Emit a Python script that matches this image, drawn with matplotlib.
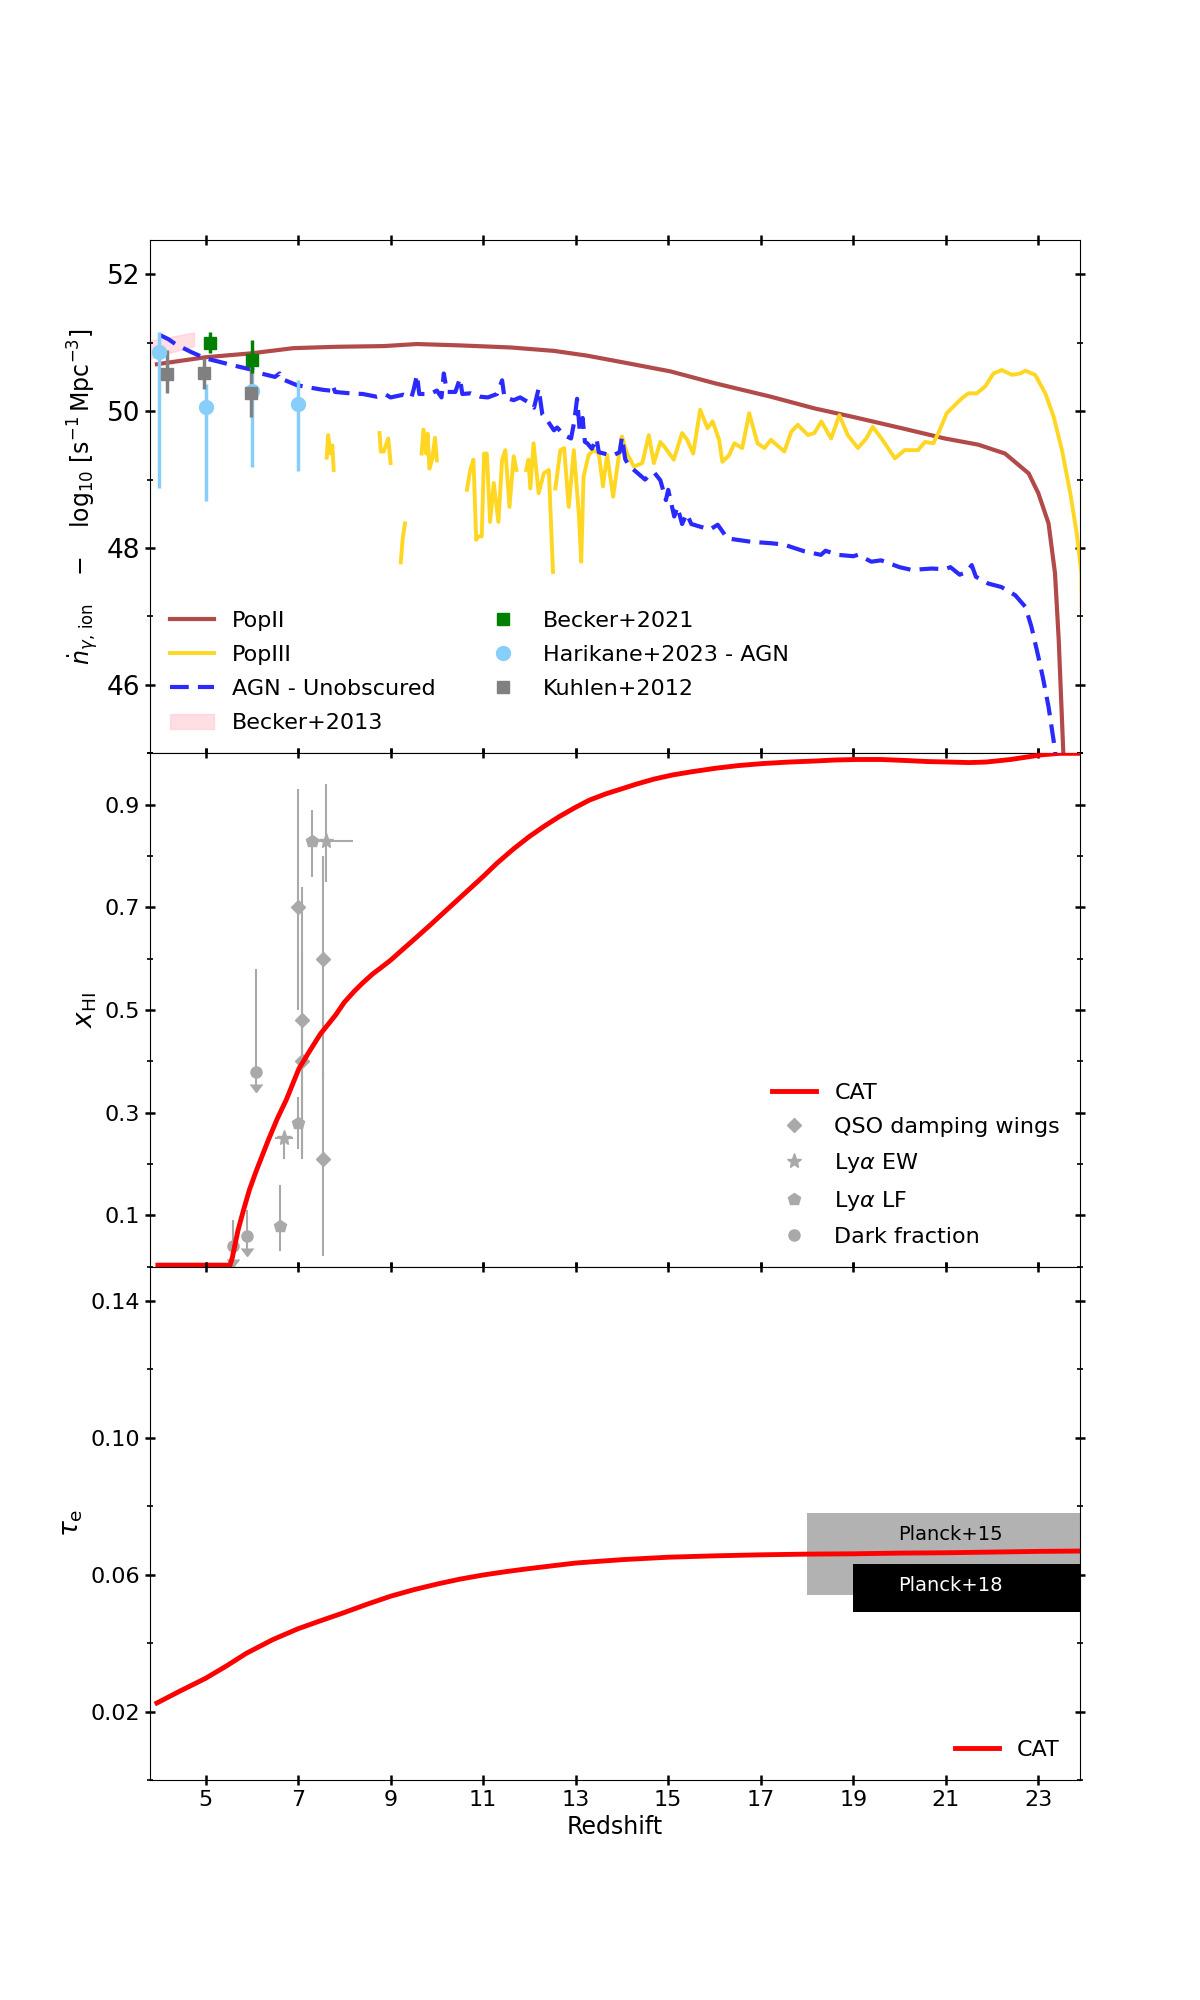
import numpy as np
import matplotlib
matplotlib.use('Agg')
import matplotlib.pyplot as plt
from matplotlib.ticker import MultipleLocator

nan = np.nan

# ---- top panel: ionizing photon rate ----
z_popII = [3.95, 5.0, 6.0, 6.9, 7.84, 8.85, 9.57, 10.5, 11.59, 12.53, 13.25, 14.12,
           15.05, 15.99, 17.22, 18.16, 19.03, 20.11, 20.98, 21.7, 22.28, 22.79, 23.0,
           23.22, 23.36, 23.44, 23.54, 23.58]
n_popII = [50.685, 50.787, 50.845, 50.92, 50.94, 50.95, 50.98, 50.96, 50.93, 50.88, 50.81,
           50.70, 50.58, 50.41, 50.21, 50.04, 49.91, 49.74, 49.60, 49.51, 49.38, 49.09,
           48.80, 48.36, 47.63, 46.66, 45.0, 44.0]

z_popIII = [7.62, 7.65, 7.70, 7.74, 7.77, nan,
            8.76, 8.79, 8.85, 8.95, 9.0, nan,
            9.22, 9.26, 9.31, nan,
            9.67, 9.71, 9.77, 9.80, 9.84, 9.90, 9.96, 10.0, nan,
            10.65, 10.72, 10.79, 10.85, 10.9, 10.97, 11.02, 11.08, 11.15, 11.23, 11.33,
            11.41, 11.48, 11.57, 11.66, 11.72, nan,
            11.93, 11.98, 12.02, 12.09, 12.2, 12.31, 12.42, 12.51, nan,
            12.56, 12.67, 12.75, 12.85, 12.96, 13.07, 13.12, 13.17, 13.28, 13.39, 13.5,
            13.59, 13.68, 13.81, 13.93, 14.0, 14.11, 14.26, 14.44, 14.58, 14.69, 14.83,
            14.94, 15.12, 15.3, 15.41, 15.54, 15.69, 15.85, 15.96, 16.1, 16.17, 16.32,
            16.43, 16.6, 16.75, 16.93, 17.08, 17.22, 17.51, 17.66, 17.8, 18.02, 18.16,
            18.31, 18.52, 18.7, 18.88, 19.1, 19.28, 19.42, 19.61, 19.9, 20.11, 20.4,
            20.55, 20.73, 20.84, 21.02, 21.2, 21.35, 21.49, 21.67, 21.85, 22.03, 22.21,
            22.43, 22.61, 22.72, 22.93, 23.15, 23.33, 23.51, 23.69, 23.83, 23.93, 23.95]
n_popIII = [49.32, 49.65, 49.38, 49.5, 49.14, nan,
            49.68, 49.41, 49.41, 49.6, 49.24, nan,
            47.79, 48.13, 48.36, nan,
            49.38, 49.73, 49.38, 49.67, 49.16, 49.3, 49.61, 49.28, nan,
            48.85, 49.14, 49.29, 48.12, 48.17, 48.17, 49.38, 49.38, 48.38, 48.95, 48.38,
            49.29, 49.43, 48.6, 49.34, 49.14, nan,
            49.14, 49.29, 48.87, 49.53, 48.8, 49.09, 49.14, 47.65, nan,
            48.87, 49.43, 49.46, 48.6, 49.43, 48.48, 47.8, 49.04, 49.36, 49.43, 49.38,
            48.9, 49.36, 48.75, 49.33, 49.63, 49.38, 49.19, 49.24, 49.65, 49.24, 49.55,
            49.46, 49.29, 49.68, 49.58, 49.38, 50.02, 49.75, 49.85, 49.58, 49.26, 49.36,
            49.53, 49.46, 49.97, 49.53, 49.46, 49.58, 49.41, 49.70, 49.8, 49.65, 49.68,
            49.85, 49.6, 49.94, 49.65, 49.46, 49.6, 49.77, 49.6, 49.31, 49.43, 49.43,
            49.55, 49.53, 49.68, 49.97, 50.09, 50.19, 50.26, 50.26, 50.36, 50.55, 50.60,
            50.53, 50.55, 50.59, 50.53, 50.26, 49.92, 49.43, 48.8, 48.21, 47.63, 46.41]

z_agn = [3.99, 4.2, 4.37, 4.7, 5.0, 5.3, 5.59, 6.03, 6.2, 6.32, 6.5, 6.6, 6.65, 6.97, 7.2,
         7.55, 7.7, 7.75, 7.8, 8.12, 8.4, 8.7, 8.9, 9.0, 9.28, 9.45, 9.5, 9.57, 9.62, 9.85,
         10.0, 10.1, 10.15, 10.22, 10.4, 10.5, 10.55, 10.73, 10.94, 11.1, 11.3, 11.41, 11.46,
         11.66, 11.8, 12.0, 12.1, 12.2, 12.28, 12.4, 12.53, 12.6, 12.75, 12.9, 12.97, 13.03,
         13.09, 13.15, 13.2, 13.25, 13.35, 13.45, 13.5, 13.61, 13.8, 13.95, 14.0, 14.07,
         14.15, 14.26, 14.5, 14.6, 14.7, 14.83, 14.95, 15.0, 15.13, 15.2, 15.3, 15.4, 15.5,
         15.7, 15.9, 16.07, 16.28, 16.8, 17.22, 17.5, 17.95, 18.3, 18.4, 18.67, 19.0, 19.1,
         19.39, 19.6, 20.0, 20.26, 20.7, 20.98, 21.1, 21.3, 21.45, 21.56, 21.65, 21.92,
         22.2, 22.5, 22.72, 22.85, 23.0, 23.1, 23.22, 23.36, 23.42]
n_agn = [51.12, 51.05, 50.97, 50.86, 50.77, 50.72, 50.67, 50.60, 50.55, 50.53, 50.5, 50.55,
         50.47, 50.38, 50.35, 50.31, 50.3, 50.38, 50.28, 50.26, 50.25, 50.21, 50.24, 50.2,
         50.24, 50.2, 50.32, 50.53, 50.25, 50.25, 50.3, 50.2, 50.55, 50.28, 50.28, 50.48,
         50.25, 50.26, 50.21, 50.2, 50.25, 50.45, 50.2, 50.16, 50.2, 50.12, 50.05, 50.33,
         49.95, 49.85, 49.72, 49.76, 49.65, 49.6, 49.85, 50.18, 49.7, 49.9, 49.55, 49.53,
         49.45, 49.6, 49.4, 49.38, 49.35, 49.4, 49.62, 49.3, 49.2, 49.14, 49.0, 49.07, 49.1,
         48.99, 48.7, 48.85, 48.46, 48.6, 48.35, 48.5, 48.35, 48.31, 48.27, 48.34, 48.14,
         48.09, 48.07, 48.05, 47.95, 47.9, 47.96, 47.90, 47.88, 47.9, 47.8, 47.82, 47.72,
         47.68, 47.7, 47.69, 47.72, 47.61, 47.65, 47.75, 47.58, 47.48, 47.43, 47.31, 47.14,
         46.85, 46.41, 46.1, 45.68, 45.05, 44.5]

z_becker13 = [3.75, 4.75]
lo_becker13 = [50.76, 50.95]
hi_becker13 = [51.02, 51.15]

z_becker21 = [5.1, 6.0]
n_becker21 = [50.99, 50.74]
lo_becker21 = [0.14, 0.19]
hi_becker21 = [0.16, 0.30]

z_harikane = [4.0, 5.0, 6.0, 7.0]
n_harikane = [50.86, 50.06, 50.29, 50.105]
lo_harikane = [1.99, 1.38, 1.10, 0.975]
hi_harikane = [0.30, 0.34, 0.31, 0.355]

z_kuhlen = [4.16, 4.96, 5.98]
n_kuhlen = [50.54, 50.56, 50.27]
lo_kuhlen = [0.28, 0.24, 0.35]
hi_kuhlen = [0.35, 0.21, 0.38]

# ---- middle panel: neutral fraction ----
z_cat = [3.97, 5.53, 5.58, 5.7, 5.82, 5.95, 6.09, 6.35, 6.55, 6.75, 7.02, 7.25, 7.48,
         7.81, 8.0, 8.21, 8.4, 8.61, 8.8, 9.0, 9.25, 9.54, 9.85, 10.2, 10.6, 11.0, 11.3,
         11.66, 12.0, 12.32, 12.65, 12.98, 13.3, 13.65, 14.0, 14.31, 14.7, 15.1, 15.5,
         16.03, 16.5, 17.03, 17.6, 18.16, 18.6, 19.08, 19.6, 20.15, 20.6, 21.07, 21.5,
         21.87, 22.4, 23.06, 23.46, 23.9]
xhi_cat = [0.003, 0.003, 0.018, 0.07, 0.11, 0.15, 0.185, 0.245, 0.288, 0.326, 0.386,
           0.42, 0.453, 0.49, 0.515, 0.536, 0.553, 0.57, 0.583, 0.597, 0.617, 0.64, 0.665,
           0.694, 0.727, 0.76, 0.786, 0.814, 0.838, 0.858, 0.877, 0.894, 0.909, 0.921,
           0.931, 0.94, 0.95, 0.958, 0.964, 0.971, 0.976, 0.98, 0.983, 0.985, 0.987, 0.988,
           0.988, 0.986, 0.984, 0.983, 0.982, 0.983, 0.988, 0.997, 1.0, 1.0]

z_qso = [7.0, 7.09, 7.09, 7.54, 7.54]
x_qso = [0.70, 0.48, 0.40, 0.60, 0.21]
lo_qso = [0.20, 0.26, 0.19, 0.23, 0.19]
hi_qso = [0.23, 0.26, 0.21, 0.20, 0.17]

z_ew = [6.69, 7.6]
x_ew = [0.25, 0.83]
lo_ew = [0.04, 0.08]
hi_ew = [0.01, 0.11]
zlo_ew = [0.19, 0.4]
zhi_ew = [0.19, 0.59]

z_lf = [6.6, 7.0, 7.3]
x_lf = [0.08, 0.28, 0.83]
lo_lf = [0.05, 0.05, 0.07]
hi_lf = [0.08, 0.05, 0.06]

z_dark = [5.6, 5.9, 6.1]
x_dark = [0.04, 0.06, 0.38]
hi_dark = [0.05, 0.05, 0.20]
arrow_dark = [0.0, 0.02, 0.34]

# ---- bottom panel: optical depth ----
z_tau = [3.95, 4.45, 5.0, 5.45, 5.88, 6.45, 7.0, 7.5, 7.95, 8.5, 9.0, 9.5, 10.02, 10.5,
         11.0, 11.5, 11.95, 12.5, 13.0, 13.5, 14.02, 15.0, 16.0, 17.0, 18.0, 19.0, 20.0,
         21.0, 22.0, 23.0, 23.9]
tau_cat = [0.0225, 0.026, 0.0297, 0.0333, 0.037, 0.041, 0.0442, 0.0466, 0.0487, 0.0514,
           0.0537, 0.0556, 0.0573, 0.0587, 0.0599, 0.0609, 0.0617, 0.0626, 0.0634, 0.0639,
           0.0644, 0.0651, 0.0655, 0.0658, 0.066, 0.0661, 0.0663, 0.0664, 0.0666, 0.0668,
           0.0669]

planck15 = (0.066, 0.012)
planck18 = (0.0561, 0.0071)


fig, axes = plt.subplots(3, 1, figsize=(12, 20), dpi=100, sharex=True)
fig.subplots_adjust(hspace=0)
ax1, ax2, ax3 = axes

# top panel
ax1.plot(z_popII, n_popII, color='#b24a4a', lw=3, label='PopII')
ax1.plot(z_popIII, n_popIII, color='#ffd722', lw=2.8, label='PopIII')
ax1.plot(z_agn, n_agn, color='#2a2aff', lw=3, ls='--', dashes=(4.5, 2.2),
         label='AGN - Unobscured')
ax1.fill_between(z_becker13, lo_becker13, hi_becker13, color='pink', alpha=0.5,
                 label='Becker+2013')

ax1.errorbar(z_harikane, n_harikane, yerr=[lo_harikane, hi_harikane], fmt='none',
             ecolor='lightskyblue', elinewidth=2.5)
ax1.errorbar(z_kuhlen, n_kuhlen, yerr=[lo_kuhlen, hi_kuhlen], fmt='none',
             ecolor='gray', elinewidth=2.5)
ax1.errorbar(z_becker21, n_becker21, yerr=[lo_becker21, hi_becker21], fmt='none',
             ecolor='green', elinewidth=2.5)
ax1.plot(z_becker21, n_becker21, 's', color='green', ms=9, label='Becker+2021')
ax1.plot(z_harikane, n_harikane, 'o', color='lightskyblue', ms=10,
         label='Harikane+2023 - AGN')
ax1.plot(z_kuhlen, n_kuhlen, 's', color='gray', ms=9, label='Kuhlen+2012')

ax1.set_ylim(45, 52.5)
ax1.yaxis.set_major_locator(MultipleLocator(2))
ax1.yaxis.set_minor_locator(MultipleLocator(1))
ax1.set_ylabel(r'$\dot{n}_{\gamma,\,\mathrm{ion}}\quad-\quad\log_{10}\,[\mathrm{s^{-1}\,Mpc^{-3}}]$',
               fontsize=17)
ax1.legend(loc='lower left', ncol=2, frameon=False, fontsize=16, labelspacing=0.64)

# middle panel
ax2.plot(z_cat, xhi_cat, color='red', lw=3.5, label='CAT', zorder=3)
gray = 'darkgray'
ax2.errorbar(z_qso, x_qso, yerr=[lo_qso, hi_qso], fmt='none', ecolor=gray, elinewidth=1.5)
ax2.errorbar(z_ew, x_ew, yerr=[lo_ew, hi_ew], xerr=[zlo_ew, zhi_ew], fmt='none',
             ecolor=gray, elinewidth=1.5)
ax2.errorbar(z_lf, x_lf, yerr=[lo_lf, hi_lf], fmt='none', ecolor=gray, elinewidth=1.5)
ax2.errorbar(z_dark, x_dark, yerr=[np.subtract(x_dark, arrow_dark), hi_dark], fmt='none',
             ecolor=gray, elinewidth=1.5)
ax2.plot(z_dark, arrow_dark, ls='none', marker=7, color=gray, ms=8)
ax2.plot(z_qso, x_qso, 'D', color=gray, ms=7, ls='none', label='QSO damping wings')
ax2.plot(z_ew, x_ew, '*', color=gray, ms=11, ls='none', label=r'Ly$\alpha$ EW')
ax2.plot(z_lf, x_lf, 'p', color=gray, ms=9, ls='none', label=r'Ly$\alpha$ LF')
ax2.plot(z_dark, x_dark, 'o', color=gray, ms=8, ls='none', label='Dark fraction')

ax2.set_ylim(0, 1)
ax2.set_yticks([0.1, 0.3, 0.5, 0.7, 0.9])
ax2.yaxis.set_minor_locator(MultipleLocator(0.1))
ax2.set_ylabel(r'$x_{\mathrm{HI}}$', fontsize=19)
ax2.legend(loc='lower right', frameon=False, fontsize=16, labelspacing=0.63)

# bottom panel
ax3.fill_between([18, 25], planck15[0] - planck15[1], planck15[0] + planck15[1],
                 color='gray', alpha=0.6, lw=0)
ax3.fill_between([19, 25], planck18[0] - planck18[1], planck18[0] + planck18[1],
                 color='black', lw=0)
ax3.plot(z_tau, tau_cat, color='red', lw=3.5, label='CAT')
ax3.text(21.1, 0.0718, 'Planck+15', ha='center', va='center', fontsize=14, color='black')
ax3.text(21.1, 0.0568, 'Planck+18', ha='center', va='center', fontsize=14, color='white')

ax3.set_ylim(0, 0.15)
ax3.set_yticks([0.02, 0.06, 0.10, 0.14])
ax3.yaxis.set_minor_locator(MultipleLocator(0.02))
ax3.set_ylabel(r'$\tau_{\mathrm{e}}$', fontsize=19)
ax3.set_xlabel('Redshift', fontsize=17)
ax3.legend(loc='lower right', frameon=False, fontsize=16)

ax3.set_xlim(3.8, 23.9)
ax3.set_xticks(np.arange(5, 24, 2))

for ax in axes:
    ax.tick_params(which='both', direction='inout', top=True, right=True)
    ax.tick_params(which='major', length=7, width=1.8, labelsize=16)
    ax.tick_params(which='minor', length=5, width=1.2)
ax1.tick_params(axis='y', which='major', labelsize=19)

fig.savefig('out.png', dpi=100)
